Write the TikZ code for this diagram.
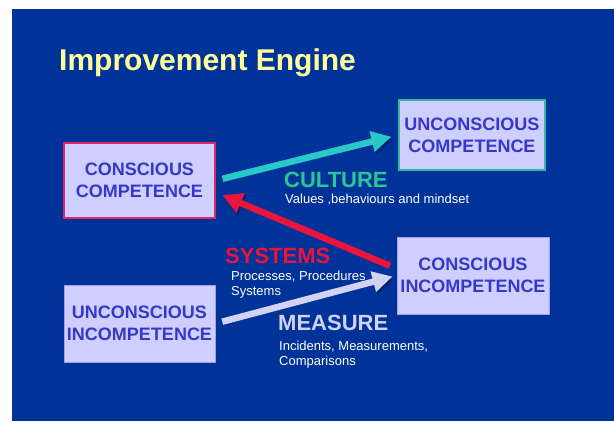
\documentclass[tikz,border=0pt]{standalone}
\usepackage{fontspec}
\setmainfont{Liberation Sans}
\usepackage[]{xcolor}
\usetikzlibrary{arrows.meta}

\definecolor{slide}{RGB}{0,51,153}
\definecolor{boxfill}{RGB}{206,206,255}
\definecolor{boxtext}{RGB}{55,55,200}
\definecolor{titleyellow}{RGB}{255,255,153}
\definecolor{cultureteal}{RGB}{40,200,200}
\definecolor{culturegreen}{RGB}{40,200,150}
\definecolor{systemsred}{RGB}{235,20,60}
\definecolor{measurelilac}{RGB}{210,210,245}
\definecolor{competred}{RGB}{220,40,100}
\definecolor{competteal}{RGB}{45,185,165}
\definecolor{incompline}{RGB}{160,160,235}
\definecolor{shade}{RGB}{0,25,90}

\begin{document}
\begin{tikzpicture}[
            x=1pt, y=-1pt,
            stage/.style={rectangle, draw, line width=1.5pt, fill=boxfill, text=boxtext, inner sep=0pt, align=center, font=\fontsize{18}{22}\selectfont\bfseries},
            flow/.style={-{Triangle[length=20pt, width=20pt]}, line width=6.5pt, shorten <=7pt, shorten >=7pt,
                preaction={draw=shade, opacity=0.6, transform canvas={shift={(1.5pt,-2.5pt)}}}},
            heading/.style={anchor=base west, inner sep=0pt, font=\fontsize{22}{26}\selectfont\bfseries},
            note/.style={anchor=base west, inner sep=0pt, align=left, text=white, font=\fontsize{13}{15}\selectfont}
        ]
            \useasboundingbox (0,0) rectangle (614,421);
            \fill[slide] (12,9) rectangle (614,421);

            \node[anchor=base west, inner sep=0pt, text=titleyellow, font=\fontsize{30}{36}\selectfont\bfseries] (title) at (59,70) {Improvement Engine};

            \node[stage, draw=competred, minimum width=151pt, minimum height=75pt] (CC) at (139.5,180.5) {CONSCIOUS\\COMPETENCE};
            \node[stage, draw=competteal, minimum width=146pt, minimum height=70pt] (UC) at (472,135) {UNCONSCIOUS\\COMPETENCE};
            \node[stage, draw=incompline, line width=1pt, minimum width=152pt, minimum height=77pt] (CI) at (473,275.5) {CONSCIOUS\\INCOMPETENCE};
            \node[stage, draw=incompline, line width=1pt, minimum width=151pt, minimum height=77pt] (UI) at (139.5,323.5) {UNCONSCIOUS\\INCOMPETENCE};

            \draw[flow, cultureteal] (CC.east) -- (UC.west);
            \draw[flow, systemsred] ([yshift=7pt]CI.west) -- ([yshift=-12pt]CC.east);
            \draw[flow, measurelilac, shorten >=4pt] (UI.east) -- (CI.west);

            % labels of the three arrows
            \node[heading, text=culturegreen] (culture) at (284,187) {CULTURE};
            \node[note] (culturenote) at (285,203) {Values ,behaviours and mindset};
            \node[heading, text=systemsred] (systems) at (225,263) {SYSTEMS};
            \node[note] (systemsnote) at (231,295) {Processes, Procedures\\Systems};
            \node[heading, text=measurelilac] (measure) at (278,330) {MEASURE};
            \node[note] (measurenote) at (279,365) {Incidents, Measurements,\\Comparisons};
        \end{tikzpicture}
\end{document}
